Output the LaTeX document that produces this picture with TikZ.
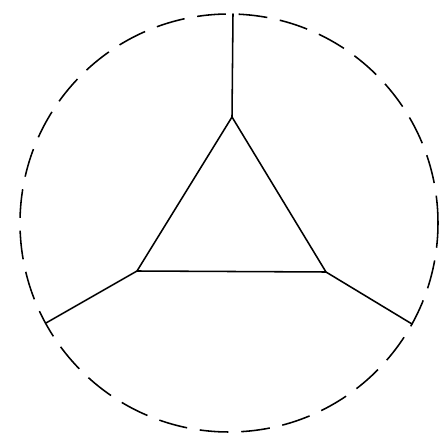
\documentclass[tikz,border=0pt]{standalone}
\usepackage{tikz}
\usetikzlibrary{calc}

\begin{document}
\begin{tikzpicture}[
          x=0.025cm, y=-0.025cm,
          edge/.style={line width=1.1pt, line cap=round,
                       line join=round},
          rim/.style={line width=1.1pt,
                      dash pattern=on 0.72cm off 0.32cm},
      ]
      \useasboundingbox (0, 0) rectangle (441, 439);
      \coordinate (o) at (229, 223);
      \draw[rim, dash phase=0.1cm] (o) circle (209);
      % triangle corners
      \coordinate (t) at (232, 117);
      \coordinate (l) at (137, 271);
      \coordinate (r) at (326, 272);
      % ends on the rim
      \coordinate (tt) at (233, 14);
      \coordinate (ll) at (46, 323);
      \coordinate (rr) at (412, 324);
      \draw[edge] (t) -- (l) -- (r) -- cycle;
      \draw[edge] (t) -- (tt);
      \draw[edge] (l) -- (ll);
      \draw[edge] (r) -- (rr);
      \end{tikzpicture}
\end{document}
